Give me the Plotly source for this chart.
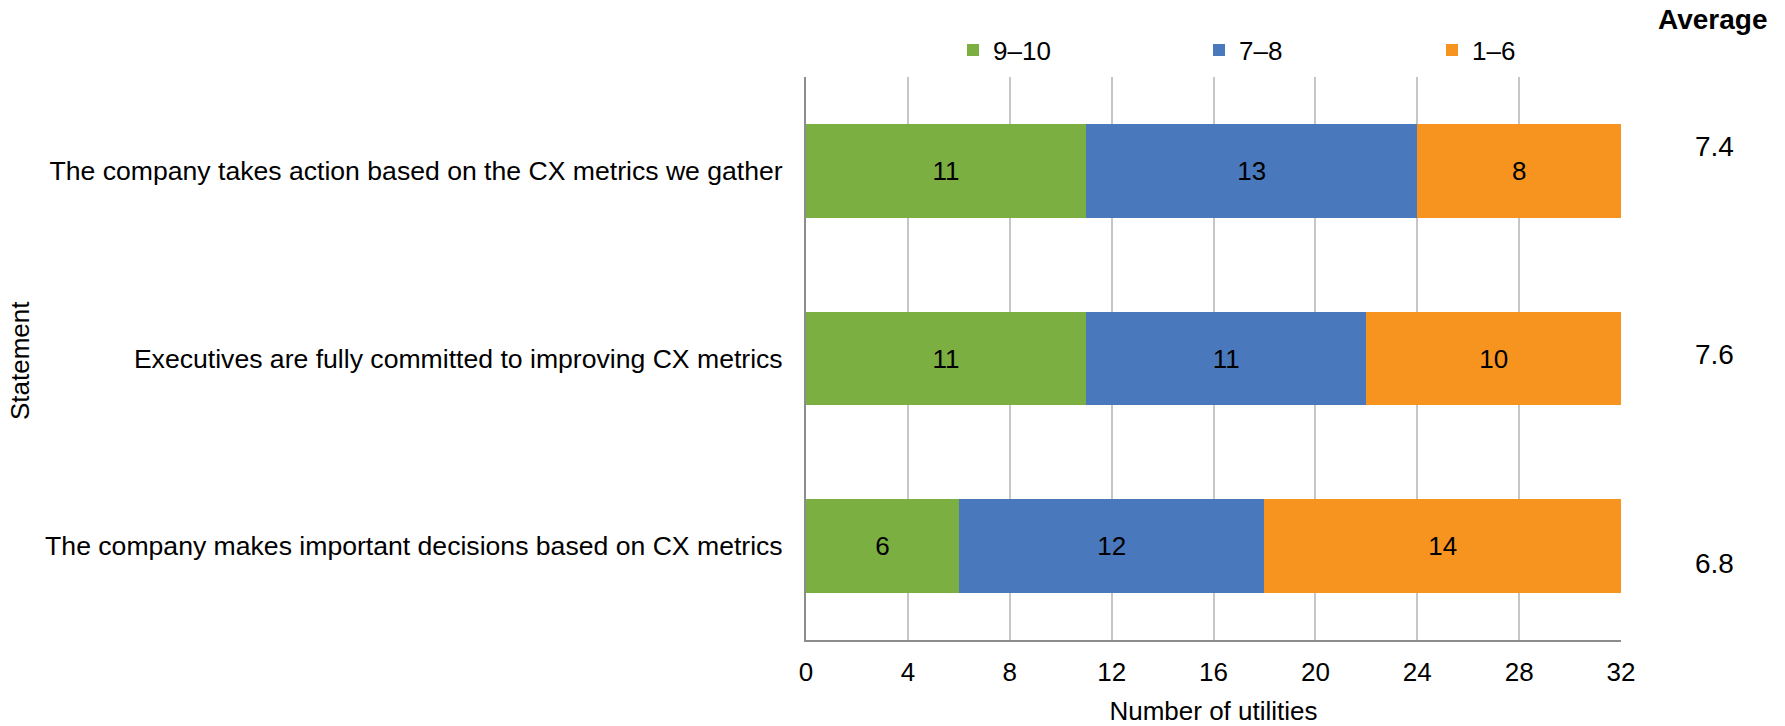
import plotly.graph_objects as go

# Survey statements, top to bottom
statements = [
    "The company takes action based on the CX metrics we gather",
    "Executives are fully committed to improving CX metrics",
    "The company makes important decisions based on CX metrics",
]
score_9_10 = [11, 11, 6]
score_7_8 = [13, 11, 12]
score_1_6 = [8, 10, 14]
averages = [7.4, 7.6, 6.8]
x_ticks = [0, 4, 8, 12, 16, 20, 24, 28, 32]

series = [
    ("9–10", score_9_10, "#7BAF42", "legend"),
    ("7–8", score_7_8, "#4A78BD", "legend2"),
    ("1–6", score_1_6, "#F7941F", "legend3"),
]

FONT = "Liberation Sans, Arial, sans-serif"
W, H = 1785, 726
L, R, T, B = 806, 164, 77, 86
plot_w = W - L - R
plot_h = H - T - B

fig = go.Figure()
for name, vals, color, leg in series:
    fig.add_trace(go.Bar(
        y=statements, x=vals, name=name, orientation="h",
        marker=dict(color=color, line=dict(width=0)),
        text=vals, textposition="inside", insidetextanchor="middle",
        textfont=dict(family=FONT, size=26, color="#000000"),
        legend=leg,
    ))

def px_x(px):
    return (px - L) / plot_w

def px_y(py):
    return (H - B - py) / plot_h

legend_common = dict(
    orientation="h", yanchor="middle", xanchor="left",
    font=dict(family=FONT, size=26, color="#000000"),
    bgcolor="rgba(0,0,0,0)", borderwidth=0,
)
layout_legends = {}
for key, left_px in (("legend", 953), ("legend2", 1199), ("legend3", 1432)):
    layout_legends[key] = dict(legend_common, x=px_x(left_px), y=px_y(50))

fig.update_layout(
    width=W, height=H,
    margin=dict(l=L, r=R, t=T, b=B, pad=0, autoexpand=False),
    barmode="stack", bargap=0.5,
    plot_bgcolor="white", paper_bgcolor="white",
    font=dict(family=FONT, size=26, color="#000000"),
    showlegend=True,
    **layout_legends,
)

fig.update_xaxes(
    range=[0, 32], tickvals=x_ticks, ticktext=[str(v) for v in x_ticks],
    showgrid=True, gridcolor="#C6C6C6", gridwidth=2,
    showline=True, linecolor="#8C8C8C", linewidth=2,
    zeroline=False, ticks="", ticklabelstandoff=8,
    tickfont=dict(family=FONT, size=26, color="#000000"),
    title=dict(text="Number of utilities", standoff=20,
               font=dict(family=FONT, size=26, color="#000000")),
    automargin=False, fixedrange=True,
)
fig.update_yaxes(
    categoryorder="array", categoryarray=statements[::-1],
    range=[-0.5, 2.5],
    showgrid=False, showline=True, linecolor="#8C8C8C", linewidth=2,
    ticks="", ticklabelstandoff=16,
    tickfont=dict(family=FONT, size=26.6, color="#000000"),
    automargin=False, fixedrange=True,
)

# Y axis title
fig.add_annotation(
    text="Statement", textangle=-90, xref="paper", yref="paper",
    x=px_x(20), y=px_y(361), xanchor="center", yanchor="middle",
    showarrow=False, font=dict(family=FONT, size=26, color="#000000"),
)

# Average column
fig.add_annotation(
    text="<b>Average</b>", xref="paper", yref="paper",
    x=px_x(1712), y=px_y(19), xanchor="center", yanchor="middle",
    showarrow=False, font=dict(family=FONT, size=28, color="#000000"),
)
for py, avg in zip((146, 354, 563), averages):
    fig.add_annotation(
        text=f"{avg:.1f}", xref="paper", yref="paper",
        x=px_x(1714), y=px_y(py), xanchor="center", yanchor="middle",
        showarrow=False, font=dict(family=FONT, size=28, color="#000000"),
    )

fig.write_html("out.html", config={"displayModeBar": False})
